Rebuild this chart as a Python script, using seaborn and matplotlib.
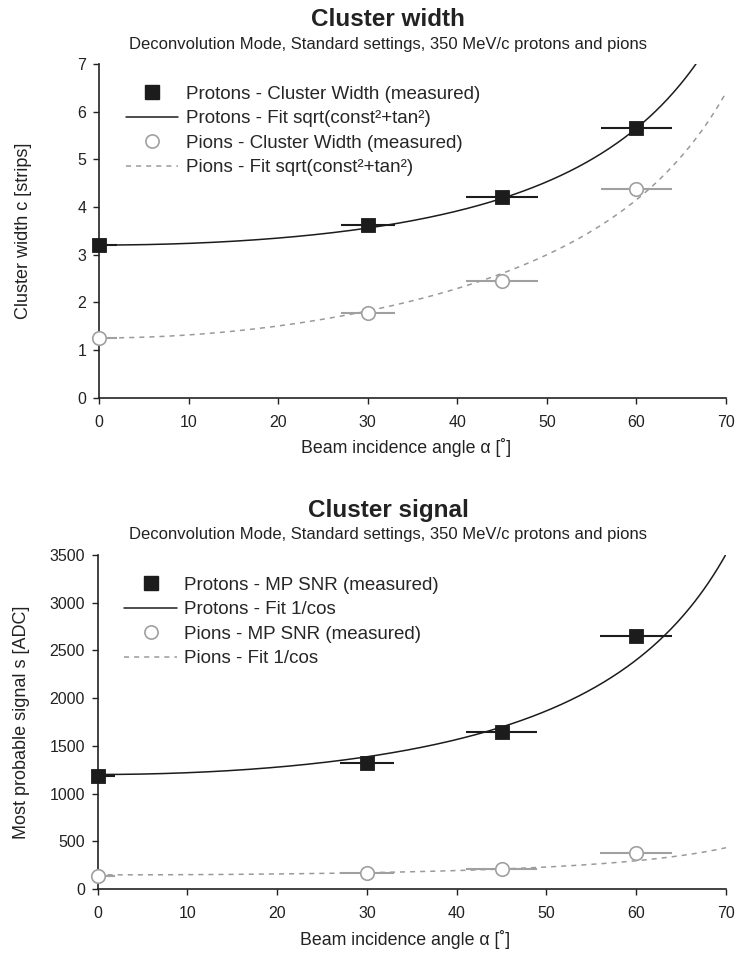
import numpy as np
import pandas as pd
import matplotlib
matplotlib.use("Agg")
import matplotlib.pyplot as plt
import seaborn as sns
from matplotlib.lines import Line2D

sns.set_style("ticks")
plt.rcParams['font.family'] = ['Liberation Sans', 'DejaVu Sans']

# ---- data ----
angles = [0, 30, 45, 60]
angle_err_lo = [2, 3, 4, 4]
angle_err_hi = [2, 3, 4, 4]

width_protons = [3.2, 3.62, 4.2, 5.65]
width_pions = [1.25, 1.78, 2.45, 4.38]
# fit parameters: w = sqrt(c^2 + k*tan^2)
width_fit_protons = (3.2, 7.23)
width_fit_pions = (1.25, 5.22)

signal_protons = [1180, 1320, 1650, 2650]
signal_pions = [140, 165, 210, 375]
# fit parameters: s = A / cos
signal_fit_protons = 1200
signal_fit_pions = 148

x_ticks = [0, 10, 20, 30, 40, 50, 60, 70]

fig = plt.figure(figsize=(7.38, 9.55), dpi=100)
ax1 = fig.add_axes([99 / 738, 1 - 397.5 / 955, 627 / 738, 333.5 / 955])
ax2 = fig.add_axes([97.5 / 738, 1 - 889 / 955, 628.5 / 738, 334 / 955])

GRAY = "#a0a0a0"
DGRAY = "#9a9a9a"
BLACK = "#1c1c1c"
TXT = "#222222"
DASH = (0, (3.3, 3.3))

def draw(ax, yp, yq, fit_p, fit_q, labels, ylim, yticks, ylabel, title, kind):
    xx = np.linspace(0, 70, 400)
    rad = np.deg2rad(xx)
    if kind == "width":
        fp = np.sqrt(fit_p[0] ** 2 + fit_p[1] * np.tan(rad) ** 2)
        fq = np.sqrt(fit_q[0] ** 2 + fit_q[1] * np.tan(rad) ** 2)
    else:
        fp = fit_p / np.cos(rad)
        fq = fit_q / np.cos(rad)
    dfp = pd.DataFrame({"x": xx, "y": fp})
    dfq = pd.DataFrame({"x": xx, "y": fq})
    sns.lineplot(data=dfq, x="x", y="y", ax=ax, color=DGRAY, lw=1.1,
                 linestyle=DASH, zorder=2)
    sns.lineplot(data=dfp, x="x", y="y", ax=ax, color=BLACK, lw=1.1, zorder=3)
    xerr = [angle_err_lo, angle_err_hi]
    ax.errorbar(angles, yq, xerr=xerr, fmt="none", ecolor=GRAY, elinewidth=1.5,
                capsize=0, zorder=4)
    ax.errorbar(angles, yp, xerr=xerr, fmt="none", ecolor=BLACK, elinewidth=1.5,
                capsize=0, zorder=4)
    dq = pd.DataFrame({"x": angles, "y": yq})
    dp = pd.DataFrame({"x": angles, "y": yp})
    sns.scatterplot(data=dq, x="x", y="y", ax=ax, marker="o", s=95,
                    facecolor="white", edgecolor=GRAY, linewidth=1.2, zorder=5, clip_on=False)
    sns.scatterplot(data=dp, x="x", y="y", ax=ax, marker="s", s=110,
                    color=BLACK, edgecolor=BLACK, linewidth=0.6, zorder=6, clip_on=False)
    ax.set_xlim(0, 70)
    ax.set_ylim(*ylim)
    ax.set_xticks(x_ticks)
    ax.set_yticks(yticks)
    ax.tick_params(labelsize=11.5, length=4, width=1, direction="out", colors=TXT)
    ax.tick_params(axis="x", pad=8.5)
    ax.tick_params(axis="y", pad=5)
    for s in ["top", "right"]:
        ax.spines[s].set_visible(False)
    for s in ["left", "bottom"]:
        ax.spines[s].set_linewidth(1.2)
        ax.spines[s].set_color(TXT)
    ax.set_xlabel("Beam incidence angle α [˚]", fontsize=12.8, color=TXT)
    ax.set_ylabel(ylabel, fontsize=13, color=TXT)
    ax.xaxis.set_label_coords(0.49, -0.15)
    ax.xaxis.label.set_verticalalignment("center")
    ax.yaxis.set_label_coords(-0.121, 0.5)
    ax.yaxis.label.set_verticalalignment("center")
    handles = [
        Line2D([], [], marker="s", color=BLACK, ls="none", markersize=10),
        Line2D([], [], color=BLACK, lw=1.1),
        Line2D([], [], marker="o", markerfacecolor="white", markeredgecolor=GRAY,
               markeredgewidth=1.2, ls="none", markersize=9.5),
        Line2D([], [], color=DGRAY, lw=1.1, linestyle=DASH),
    ]
    ax.legend(handles, labels, loc="upper left", bbox_to_anchor=(0.022, 0.975),
              frameon=False, fontsize=13.5, handlelength=2.8, handletextpad=0.4,
              labelspacing=0.4, borderaxespad=0.3)
    bb = ax.get_position()
    xc = (388 - bb.x0 * 738) / (bb.width * 738)
    hpx = bb.height * 955
    ax.text(xc, 1 + 37.5 / hpx, title, transform=ax.transAxes, ha="center", va="baseline",
            fontsize=17.5, fontweight="bold", color=TXT)
    ax.text(xc, 1 + 15.5 / hpx,
            "Deconvolution Mode, Standard settings, 350 MeV/c protons and pions",
            transform=ax.transAxes, ha="center", va="baseline", fontsize=12, color=TXT)

draw(ax1, width_protons, width_pions, width_fit_protons, width_fit_pions,
     ["Protons - Cluster Width (measured)", "Protons - Fit sqrt(const²+tan²)",
      "Pions - Cluster Width (measured)", "Pions - Fit sqrt(const²+tan²)"],
     (0, 7), [0, 1, 2, 3, 4, 5, 6, 7], "Cluster width c [strips]", "Cluster width", "width")

draw(ax2, signal_protons, signal_pions, signal_fit_protons, signal_fit_pions,
     ["Protons - MP SNR (measured)", "Protons - Fit 1/cos",
      "Pions - MP SNR (measured)", "Pions - Fit 1/cos"],
     (0, 3500), [0, 500, 1000, 1500, 2000, 2500, 3000, 3500],
     "Most probable signal s [ADC]", "Cluster signal", "signal")

fig.savefig("out.png", dpi=100)
